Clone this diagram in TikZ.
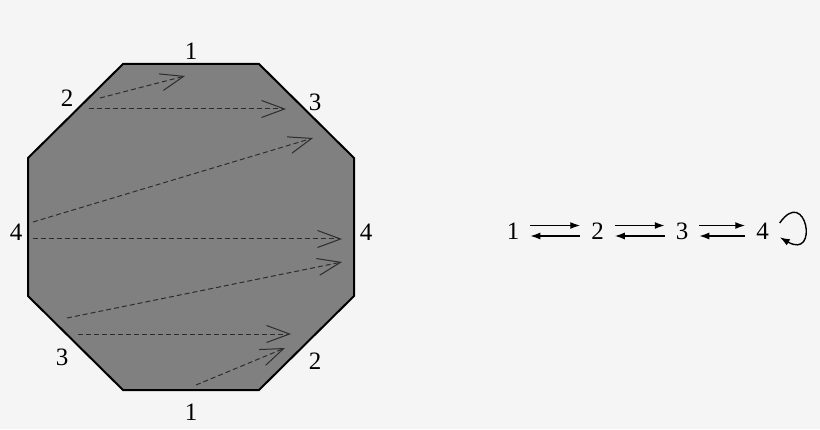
\documentclass[tikz,border=0pt]{standalone}
\usepackage{fontspec}
\setmainfont{Liberation Serif}
\usetikzlibrary{arrows.meta,positioning}
\definecolor{bggray}{RGB}{245,245,245}
\definecolor{facegray}{RGB}{128,128,128}
\definecolor{sweepgray}{RGB}{45,45,45}

\begin{document}
\begin{tikzpicture}[x=0.5pt,y=0.5pt,font=\fontsize{12.5}{14}\selectfont,
        face/.style={draw=black,fill=facegray,line width=1pt},
        sweep/.style={draw=sweepgray,line width=0.5pt,dash pattern=on 2.5pt off 1.5pt,
            -{Straight Barb[length=11.5pt,width=8.5pt]}},
        state/.style={inner sep=0pt,outer sep=5.5pt},
        flow/.style={-{Latex[length=5pt,width=3.5pt]},line width=0.7pt},
        node distance=25pt]
    \path[use as bounding box,fill=bggray] (0,0) rectangle (820,429);

    % the octagon
    \draw[face] (123,365) -- (259,365) -- (354,271) -- (354,133)
        -- (259,39) -- (123,39) -- (28,133) -- (28,271) -- cycle;

    % edge labels
    \node (t1) at (191,378) {1};
    \node (t2) at (67,331)  {2};
    \node (t3) at (315,327) {3};
    \node (l4) at (16,197)  {4};
    \node (r4) at (366,197) {4};
    \node (b3) at (62,72)   {3};
    \node (b2) at (315,68)  {2};
    \node (b1) at (191,17)  {1};

    % sweeps
    \draw[sweep] (100,331) -- (185,353);
    \draw[sweep] (89,320)  -- (286,320);
    \draw[sweep] (33,207)  -- (313,291);
    \draw[sweep] (33,190)  -- (342,190);
    \draw[sweep] (67,111)  -- (342,167);
    \draw[sweep] (78,95)   -- (291,95);
    \draw[sweep] (196,44)  -- (285,81);

    % the chain
    \node[state] (n1) at (513,198) {1};
    \node[state] (n2) [right=of n1] {2};
    \node[state] (n3) [right=of n2] {3};
    \node[state] (n4) [right=23pt of n3] {4};

    \draw[flow] ([yshift=2.75pt]n1.east) -- ([yshift=2.75pt]n2.west);
    \draw[flow] ([yshift=-2.5pt]n2.west) -- ([yshift=-2.5pt]n1.east);
    \draw[flow] ([yshift=2.75pt]n2.east) -- ([yshift=2.75pt]n3.west);
    \draw[flow] ([yshift=-2.5pt]n3.west) -- ([yshift=-2.5pt]n2.east);
    \draw[flow] ([yshift=2.75pt]n3.east) -- ([yshift=2.75pt]n4.west);
    \draw[flow] ([yshift=-2.5pt]n4.west) -- ([yshift=-2.5pt]n3.east);
    \draw[flow] (n4.25) to[out=55,in=-30,min distance=23pt] (n4.-20);
\end{tikzpicture}
\end{document}
